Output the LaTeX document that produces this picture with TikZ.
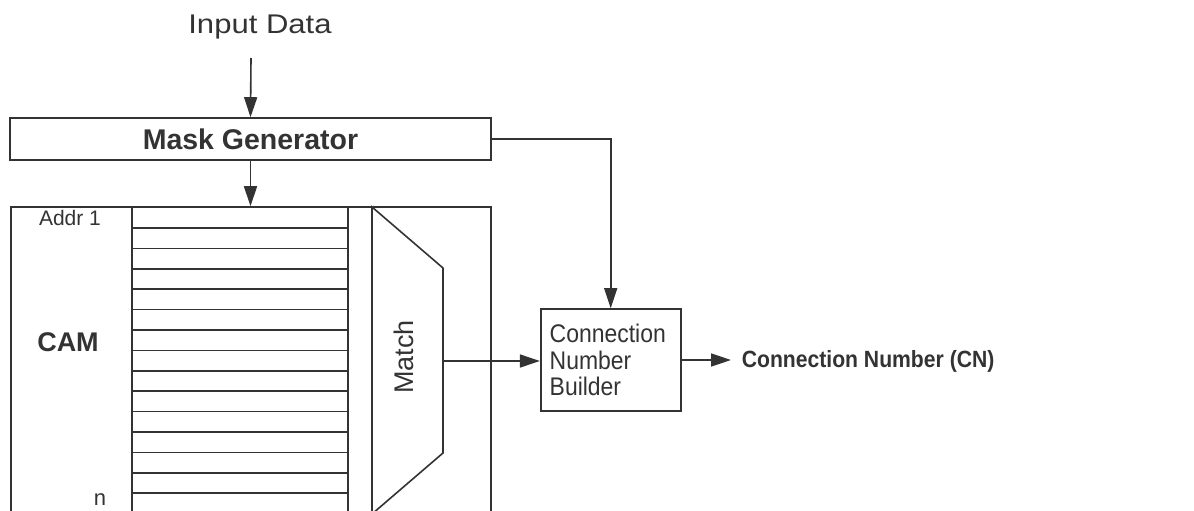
\documentclass[tikz,border=0pt]{standalone}
\usepackage{fontspec}
\setmainfont{Liberation Sans}
\newfontfamily\widefont{Liberation Sans}[FakeStretch=1.15]
\newfontfamily\narrowfont{Liberation Sans}[FakeStretch=0.9]
\usetikzlibrary{arrows.meta}
\definecolor{ink}{HTML}{333333}
\begin{document}
\begin{tikzpicture}[x=1pt,y=-1pt,
  line width=1.6pt, draw=ink, text=ink,
  arr/.style={draw=ink, line width=1.6pt, -{Triangle[length=20pt,width=13pt]}},
  box/.style={draw=ink, line width=1.6pt, inner sep=0pt, rectangle},
  lbl/.style={inner sep=0pt}]
\useasboundingbox (0,0) rectangle (1194,511);
\fill[white] (0,0) rectangle (1194,511);

% Input Data
\node[lbl, font=\widefont\fontsize{27}{30}\selectfont] (indata) at (260,27) {Input Data};
\coordinate (instart) at (251,58);

% Mask Generator
\node[box, minimum width=481pt, minimum height=42pt, font=\bfseries\fontsize{28.5}{30}\selectfont] (mg) at (250.5,139) {Mask Generator};

% CAM outer box
\node[box, minimum width=480pt, minimum height=310pt] (cam) at (251,362) {};
\node[lbl, font=\bfseries\fontsize{27}{30}\selectfont] (camlbl) at (68,342) {CAM};
\node[lbl, font=\fontsize{21}{24}\selectfont] (addr) at (70,218) {Addr 1};
\node[lbl, font=\fontsize{22}{24}\selectfont] (nlbl) at (100,500) {n};

% register column
\draw[ink, line width=1.6pt] (132,207) -- (132,520) (348,207) -- (348,520);
\foreach \k in {0,...,13} {
  \draw[ink, line width=1.6pt] (132,{228+20.4*\k}) -- (348,{228+20.4*\k});
}

% Match trapezoid
\draw[ink, line width=1.6pt] (372,207) -- (443,268) -- (443,453) -- (372,514) -- cycle;
\node[lbl, rotate=90, font=\fontsize{27}{30}\selectfont] (match) at (404,357) {Match};
\coordinate (matchout) at (443,361);

% Connection Number Builder
\node[box, minimum width=140pt, minimum height=102pt, text width=122pt, align=left,
      font=\narrowfont\fontsize{25.5}{26.7}\selectfont] (cnb) at (610.7,360)
      {Connection\\Number\\Builder};

% CN output
\coordinate (cnend) at (731,360);
\node[lbl, anchor=west, font=\narrowfont\bfseries\fontsize{23.5}{26}\selectfont] (cn) at (741,361) {Connection Number (CN)};

% connectors
\draw[arr] (instart) -- (mg.north);
\draw[arr] (mg.south) -- (mg.south |- cam.north);
\draw[arr] (mg.east) -| (cnb.north);
\draw[arr] (matchout) -- (matchout -| cnb.west);
\draw[arr] (cnb.east) -- (cnend);
\end{tikzpicture}
\end{document}
